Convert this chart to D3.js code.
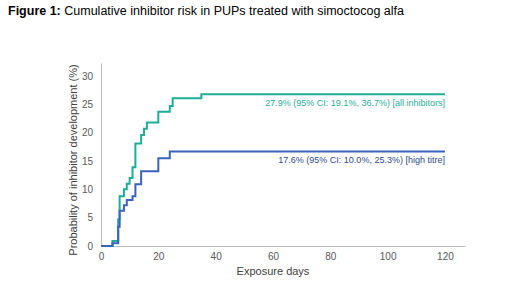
<!DOCTYPE html>
<html>
<head>
<meta charset="utf-8">
<script src="https://cdn.jsdelivr.net/npm/d3@7"></script>
<style>
  body { margin: 0; background: #fff; }
  svg text { font-family: "Liberation Sans", Arial, sans-serif; }
</style>
</head>
<body>
<div id="canvas"></div>
<script>
"use strict"

/* Data (days of exposure, cumulative risk %) */
let allDays  = [0, 4, 6, 6.5, 8, 9, 10, 11, 12, 14, 15, 16, 20, 24, 25, 35, 120];
let allRisk  = [0, 0.9, 4.7, 8.8, 10.0, 11.0, 12.0, 13.9, 18.1, 19.6, 20.7, 21.8, 23.7, 24.7, 26.1, 26.8, 26.8];
let highDays = [0, 4, 6, 6.5, 8, 9, 11, 12, 14, 20, 24, 120];
let highRisk = [0, 0.5, 3.4, 6.2, 7.2, 8.1, 8.8, 10.9, 13.2, 15.5, 16.7, 16.7];

let xTicks = [0, 20, 40, 60, 80, 100, 120];
let yTicks = [0, 5, 10, 15, 20, 25, 30];

let allLabel  = "27.9% (95% CI: 19.1%, 36.7%) [all inhibitors]";
let highLabel = "17.6% (95% CI: 10.0%, 25.3%) [high titre]";

/* Drawing config */
let svgWidth = 520;
let svgHeight = 285;
let green = "#1daf95";
let blue = "#3b62bd";

let svg = d3.select("#canvas")
    .append("svg")
    .attr("width", svgWidth)
    .attr("height", svgHeight);

// Scales
let xScale = d3.scaleLinear()
    .domain([0, 127])
    .range([101, 465]);

let yScale = d3.scaleLinear()
    .domain([0, 32.3])
    .range([246, 63]);

/* Title */
let title = svg.append("text")
    .attr("x", 8)
    .attr("y", 15)
    .style("font-size", "12.5px")
    .attr("fill", "#000");
title.append("tspan").style("font-weight", "bold").text("Figure 1:");
title.append("tspan").text(" Cumulative inhibitor risk in PUPs treated with simoctocog alfa");

/* Axes */
let xAxis = d3.axisBottom(xScale).tickValues(xTicks).tickSize(0).tickPadding(7);
let yAxis = d3.axisLeft(yScale).tickValues(yTicks).tickSize(0).tickPadding(8);

let gx = svg.append("g")
    .attr("transform", "translate(0," + yScale(0) + ")")
    .call(xAxis);
let gy = svg.append("g")
    .attr("transform", "translate(" + xScale(0) + ",0)")
    .call(yAxis);

[gx, gy].forEach(function(g) {
    g.select(".domain").attr("stroke", "#bfbfbf").attr("stroke-width", 1);
    g.selectAll("text")
        .style("font-family", "'Liberation Sans', Arial, sans-serif")
        .style("font-size", "10px")
        .attr("fill", "#595959");
});

/* Axis labels */
svg.append("text")
    .attr("x", 273)
    .attr("y", 275)
    .attr("text-anchor", "middle")
    .style("font-size", "11px")
    .attr("fill", "#404040")
    .text("Exposure days");

svg.append("text")
    .attr("transform", "translate(77,160) rotate(-90)")
    .attr("text-anchor", "middle")
    .style("font-size", "11px")
    .attr("fill", "#404040")
    .text("Probability of inhibitor development (%)");

/* Step lines */
let line = d3.line()
    .x(function(d) { return xScale(d[0]); })
    .y(function(d) { return yScale(d[1]); })
    .curve(d3.curveStepAfter);

svg.append("path")
    .datum(d3.zip(allDays, allRisk))
    .attr("fill", "none")
    .attr("stroke", green)
    .attr("stroke-width", 2)
    .attr("d", line);

svg.append("path")
    .datum(d3.zip(highDays, highRisk))
    .attr("fill", "none")
    .attr("stroke", blue)
    .attr("stroke-width", 2)
    .attr("d", line);

/* Annotations */
svg.append("text")
    .attr("x", xScale(120))
    .attr("y", 106)
    .attr("text-anchor", "end")
    .style("font-size", "9px")
    .attr("fill", "#2aae98")
    .text(allLabel);

svg.append("text")
    .attr("x", xScale(120))
    .attr("y", 163)
    .attr("text-anchor", "end")
    .style("font-size", "9px")
    .attr("fill", "#2f4a8c")
    .text(highLabel);
</script>
</body>
</html>
